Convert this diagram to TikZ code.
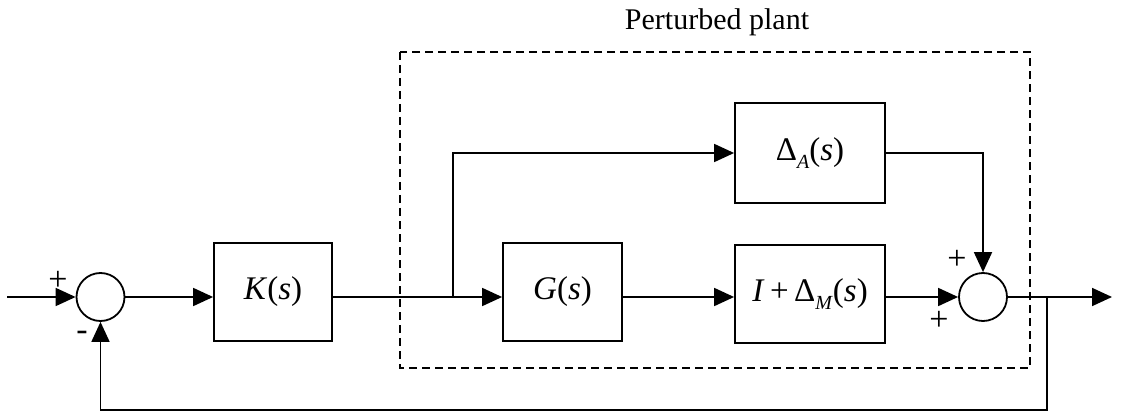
\documentclass[tikz,border=0pt]{standalone}
\usepackage{fontspec}
\setmainfont{Liberation Serif}
\usetikzlibrary{arrows.meta}
\newcommand{\lbl}{\fontsize{30}{34}\selectfont}
\newcommand{\blbl}{\fontsize{33}{36}\selectfont}
\newcommand{\sgn}{\fontsize{34}{36}\selectfont}
\newcommand{\sbs}[1]{\raisebox{-0.5ex}{\fontsize{20}{22}\selectfont\textit{#1}}}
\begin{document}
\begin{tikzpicture}[x=1pt,y=-1pt,
  line width=1.8pt,
  blk/.style={draw,rectangle,minimum height=98pt,inner sep=0pt,font=\blbl},
  sumc/.style={draw,circle,minimum size=48pt,inner sep=0pt},
  arr/.style={-{Triangle[length=20pt,width=18pt]}},
  sg/.style={font=\sgn,inner sep=0pt}]
\useasboundingbox (0,0) rectangle (1121,414);
% frame
\draw[dashed,dash pattern=on 8pt off 5pt,line width=1.5pt] (400,52) rectangle (1030,368);
\node[font=\lbl,inner sep=0pt] (title) at (717,22) {Perturbed plant};
% nodes
\node[sumc] (s1) at (100.5,297) {};
\node[blk,minimum width=118pt] (K) at (273,292) {\textit{K}(\textit{s})};
\node[blk,minimum width=119pt] (G) at (562.5,292) {\textit{G}(\textit{s})};
\node[blk,minimum width=150pt] (M) at (810,294) {\textit{I}\,+\,Δ\sbs{M}(\textit{s})};
\node[blk,minimum width=150pt,minimum height=100pt] (A) at (810,153) {Δ\sbs{A}(\textit{s})};
\node[sumc] (s2) at (983,297) {};
\coordinate (in) at (7,297);
\coordinate (b1) at (453,297);
\coordinate (b2) at (1047,297);
\coordinate (out) at (1112,297);
\coordinate (fb) at (1047,410);
% connectors
\draw[arr] (in) -- (s1.west);
\draw[arr] (s1.east) -- (s1.east -| K.west);
\draw (s1.east -| K.east) -- (b1);
\draw[arr] (b1) -- (b1 -| G.west);
\draw[arr] (b1) |- (A.west);
\draw[arr] (b1 -| G.east) -- (b1 -| M.west);
\draw[arr] (b1 -| M.east) -- (s2.west);
\draw[arr] (A.east) -| (s2.north);
\draw[arr] (s2.east) -- (out);
\draw[arr] (b2) -- (fb) -| (s1.south);
% signs
\node[sg] (p1) at (58,281) {+};
\node[sg] (m1) at (82,336) {-};
\node[sg] (p2) at (957,260) {+};
\node[sg] (p3) at (939,321) {+};
\end{tikzpicture}
\end{document}
